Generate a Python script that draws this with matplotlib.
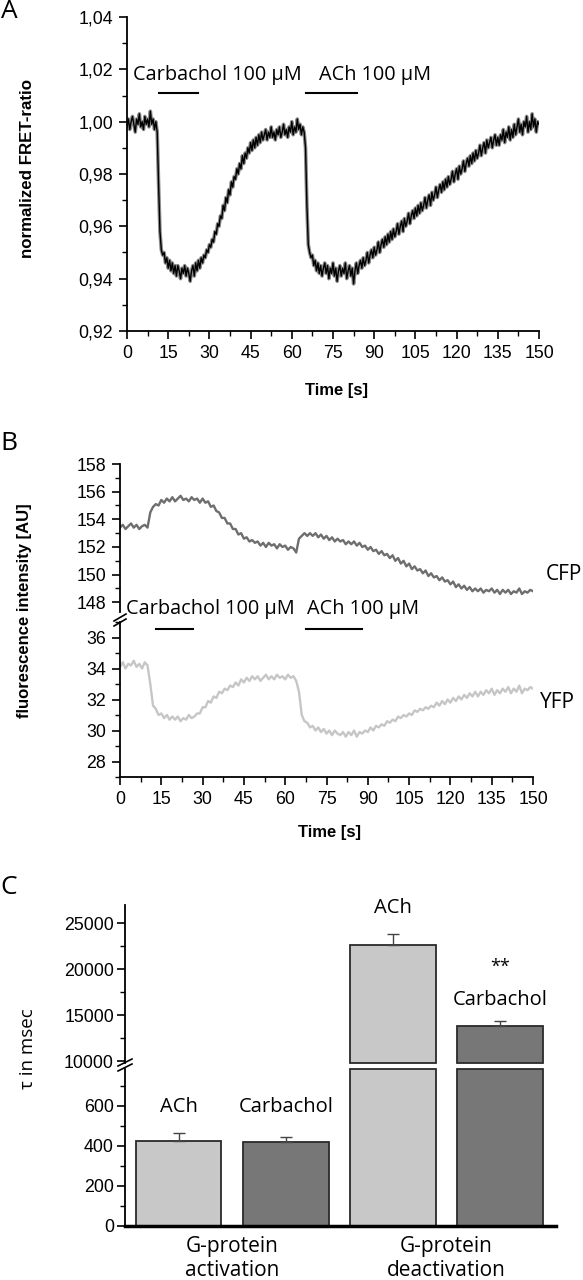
import numpy as np
import matplotlib
matplotlib.use("Agg")
import matplotlib.pyplot as plt
from matplotlib.ticker import MultipleLocator, FuncFormatter, FixedLocator
from matplotlib.lines import Line2D

# ---------------- data ----------------
# Panel A: normalized FRET ratio, sampled every 0.5 s from 0 to 150 s
fret_ratio = [
    0.998, 1.001, 0.997, 1.000, 1.002, 0.999, 0.996, 1.001, 0.999, 1.003,
    0.998, 1.000, 0.997, 1.002, 0.999, 1.001, 0.998, 1.004, 0.999, 1.001,
    0.997, 1.000,
    0.996, 0.976, 0.958, 0.951, 0.949, 0.950, 0.946, 0.948,
    0.944, 0.947, 0.943, 0.946, 0.942, 0.945, 0.941, 0.945, 0.943, 0.940,
    0.944, 0.942, 0.945, 0.941, 0.944, 0.942, 0.939, 0.943, 0.945, 0.941,
    0.946, 0.943, 0.947, 0.944, 0.948, 0.946, 0.949, 0.948, 0.951, 0.950,
    0.953, 0.952, 0.955, 0.954, 0.958, 0.957, 0.961, 0.960, 0.964, 0.963,
    0.968, 0.966, 0.971, 0.969, 0.974, 0.972, 0.977, 0.975, 0.979, 0.978,
    0.982, 0.980, 0.984, 0.982, 0.987, 0.984, 0.988, 0.986, 0.990, 0.988,
    0.992, 0.989, 0.993, 0.990, 0.994, 0.991, 0.995, 0.992, 0.996, 0.993,
    0.995, 0.997, 0.993, 0.996, 0.994, 0.998, 0.994, 0.996, 0.993, 0.997,
    0.995, 0.998, 0.994, 0.996, 0.999, 0.995, 0.997, 0.994, 0.998, 0.996,
    1.000, 0.995, 0.998, 0.996, 1.001, 0.997, 0.999, 0.995, 0.998, 0.996,
    0.990, 0.968, 0.953, 0.950, 0.948, 0.949, 0.945, 0.947, 0.943, 0.946,
    0.942, 0.945, 0.941, 0.944, 0.946, 0.942, 0.945, 0.940, 0.944, 0.942,
    0.946, 0.941, 0.944, 0.939, 0.943, 0.945, 0.941, 0.944, 0.942, 0.946,
    0.940, 0.943, 0.945, 0.941, 0.944, 0.938, 0.943, 0.946, 0.942, 0.945,
    0.947, 0.944, 0.948, 0.945, 0.947, 0.950, 0.946, 0.949, 0.951, 0.948,
    0.952, 0.949, 0.951, 0.954, 0.950, 0.953, 0.955, 0.952, 0.956, 0.953,
    0.957, 0.954, 0.958, 0.955, 0.959, 0.956, 0.958, 0.961, 0.957, 0.960,
    0.962, 0.958, 0.963, 0.960, 0.962, 0.965, 0.961, 0.964, 0.966, 0.963,
    0.967, 0.964, 0.968, 0.965, 0.969, 0.966, 0.968, 0.971, 0.967, 0.970,
    0.972, 0.968, 0.973, 0.970, 0.972, 0.975, 0.971, 0.974, 0.976, 0.973,
    0.977, 0.974, 0.978, 0.975, 0.979, 0.976, 0.978, 0.981, 0.977, 0.980,
    0.982, 0.978, 0.983, 0.980, 0.982, 0.985, 0.981, 0.984, 0.986, 0.983,
    0.987, 0.984, 0.988, 0.985, 0.989, 0.986, 0.988, 0.991, 0.987, 0.990,
    0.992, 0.988, 0.993, 0.990, 0.992, 0.994, 0.990, 0.993, 0.995, 0.991,
    0.994, 0.991, 0.995, 0.993, 0.997, 0.992, 0.996, 0.994, 0.998, 0.993,
    0.997, 0.994, 0.999, 0.995, 0.998, 1.001, 0.996, 0.999, 0.995, 1.000,
    0.998, 1.002, 0.996, 1.000, 0.997, 1.003, 0.998, 1.001, 0.996, 1.000,
    0.999,
]

# Panel B: fluorescence intensities, sampled every 1 s from 0 to 150 s
cfp_intensity = [
    153.4, 153.6, 153.3, 153.5, 153.7, 153.4, 153.6, 153.3, 153.5, 153.6,
    153.4, 154.5, 154.9, 155.1, 155.0, 155.4, 155.2, 155.5, 155.3, 155.6,
    155.3, 155.5, 155.7, 155.4, 155.5, 155.3, 155.6, 155.4, 155.5, 155.2,
    155.5, 155.2, 155.3, 154.9, 155.0, 154.6, 154.5, 154.1, 154.1, 153.7,
    153.7, 153.3, 153.3, 152.9, 153.0, 152.6, 152.7, 152.4, 152.5, 152.3,
    152.4, 152.1, 152.3, 152.0, 152.3, 152.1, 152.2, 151.9, 152.2, 152.0,
    152.1, 151.8, 152.0, 151.9, 151.6, 152.6, 152.8, 153.0, 152.8, 153.0,
    152.8, 153.0, 152.7, 152.9, 152.6, 152.8, 152.5, 152.7, 152.4, 152.6,
    152.4, 152.5, 152.2, 152.4, 152.2, 152.4, 152.1, 152.3, 152.0, 152.1,
    151.8, 152.0, 151.7, 151.8, 151.5, 151.7, 151.4, 151.5, 151.2, 151.4,
    151.0, 151.2, 150.8, 151.0, 150.6, 150.8, 150.4, 150.6, 150.3, 150.4,
    150.1, 150.3, 149.9, 150.1, 149.8, 149.9, 149.6, 149.8, 149.5, 149.6,
    149.3, 149.5, 149.1, 149.3, 149.0, 149.2, 148.9, 149.1, 148.8, 149.0,
    148.8, 149.0, 148.7, 148.9, 148.8, 149.0, 148.7, 148.9, 148.6, 148.9,
    148.7, 148.9, 148.6, 148.8, 148.7, 149.0, 148.6, 148.8, 148.7, 148.9,
    148.8,
]
yfp_intensity = [
    34.1, 34.4, 34.0, 34.3, 34.2, 34.5, 34.1, 34.3, 34.0, 34.4,
    34.2, 33.0, 31.6, 31.4, 31.0, 31.1, 30.8, 31.0, 30.7, 30.9,
    30.7, 30.9, 30.6, 30.8, 30.7, 31.0, 30.8, 30.9, 31.1, 31.1,
    31.5, 31.5, 31.9, 31.8, 32.2, 32.1, 32.5, 32.4, 32.7, 32.6,
    32.9, 32.8, 33.1, 32.9, 33.3, 33.1, 33.4, 33.2, 33.5, 33.3,
    33.5, 33.2, 33.4, 33.6, 33.3, 33.5, 33.3, 33.6, 33.4, 33.5,
    33.3, 33.6, 33.4, 33.5, 33.2, 32.5, 31.0, 30.6, 30.5, 30.2,
    30.3, 30.0, 30.2, 29.9, 30.1, 29.8, 30.0, 29.7, 30.0, 29.8,
    29.7, 29.9, 29.6, 29.9, 29.7, 30.0, 29.6, 29.9, 29.8, 30.0,
    29.9, 30.2, 30.0, 30.3, 30.2, 30.4, 30.3, 30.6, 30.5, 30.7,
    30.6, 30.9, 30.8, 31.0, 30.9, 31.1, 31.0, 31.3, 31.2, 31.4,
    31.3, 31.5, 31.4, 31.6, 31.5, 31.8, 31.6, 31.9, 31.7, 32.0,
    31.8, 32.1, 31.9, 32.2, 32.0, 32.3, 32.1, 32.4, 32.2, 32.5,
    32.2, 32.5, 32.3, 32.6, 32.4, 32.7, 32.3, 32.6, 32.4, 32.7,
    32.5, 32.8, 32.4, 32.7, 32.5, 32.9, 32.4, 32.7, 32.6, 32.8,
    32.7,
]

stim_labels = ["Carbachol 100 µM", "ACh 100 µM"]
stim_a_start = [11.6, 65.0]
stim_a_end = [26.0, 83.7]
stim_b_start = [13.0, 67.5]
stim_b_end = [26.5, 87.8]

# Panel C: time constants
group_labels = ["G-protein\nactivation", "G-protein\ndeactivation"]
agonists = ["ACh", "Carbachol", "ACh", "Carbachol"]
tau_mean = [426, 422, 22600, 13800]
tau_sem = [37, 25, 1300, 550]

# ---------------- styling ----------------
plt.rcParams["font.family"] = ["Liberation Sans", "DejaVu Sans"]
ANNOT = ["Open Sans", "DejaVu Sans"]
W, H = 583, 1280
fig = plt.figure(figsize=(W / 100, H / 100), dpi=100)


def rect(l, t, r, b):
    return [l / W, 1 - b / H, (r - l) / W, (b - t) / H]


def fx(x):
    return x / W


def fy(y):
    return 1 - y / H


comma = FuncFormatter(lambda v, p: f"{v:.2f}".replace(".", ","))
TICKFS = 12.8


def style_axis(ax, bottom=True, lw=1.3):
    ax.spines["top"].set_visible(False)
    ax.spines["right"].set_visible(False)
    ax.spines["left"].set_linewidth(lw)
    if bottom:
        ax.spines["bottom"].set_linewidth(lw)
    else:
        ax.spines["bottom"].set_visible(False)
        ax.tick_params(axis="x", which="both", bottom=False, labelbottom=False)
    ax.tick_params(which="major", direction="out", length=6, width=1.2,
                   labelsize=TICKFS, pad=4)
    ax.tick_params(which="minor", direction="out", length=3.5, width=1.0)


# ---------------- Panel A ----------------
axA = fig.add_axes(rect(127, 17, 539, 331))
tA = np.linspace(0, 150, len(fret_ratio))
axA.plot(tA, fret_ratio, color="#8c8c8c", lw=2.6, zorder=2)
axA.plot(tA, fret_ratio, color="black", lw=1.0, zorder=3)
axA.set_xlim(0, 150)
axA.set_ylim(0.92, 1.04)
axA.xaxis.set_major_locator(MultipleLocator(15))
axA.xaxis.set_minor_locator(MultipleLocator(7.5))
axA.yaxis.set_major_locator(MultipleLocator(0.02))
axA.yaxis.set_minor_locator(MultipleLocator(0.01))
axA.yaxis.set_major_formatter(comma)
style_axis(axA)
for s, e in zip(stim_a_start, stim_a_end):
    axA.plot([s, e], [1.011, 1.011], color="black", lw=1.5)
axA.text(2.2, 1.016, stim_labels[0], family=ANNOT, fontsize=14.3, ha="left", va="baseline")
axA.text(69.9, 1.016, stim_labels[1], family=ANNOT, fontsize=14.3, ha="left", va="baseline")
axA.set_xlabel("Time [s]", fontsize=12, fontweight="bold", va="center")
axA.xaxis.set_label_coords(fx(336), fy(391), transform=fig.transFigure)
axA.set_ylabel("normalized FRET-ratio", fontsize=12.2, fontweight="bold", va="center")
axA.yaxis.set_label_coords(fx(28), fy(169), transform=fig.transFigure)

# ---------------- Panel B ----------------
tB = np.linspace(0, 150, len(cfp_intensity))
axBu = fig.add_axes(rect(120, 464, 533, 612))
axBl = fig.add_axes(rect(120, 622, 533, 777))
axBu.plot(tB, cfp_intensity, color="#6e6e6e", lw=1.7)
axBl.plot(tB, yfp_intensity, color="#c6c6c6", lw=1.7)
for ax in (axBu, axBl):
    ax.set_xlim(0, 150)
    ax.xaxis.set_major_locator(MultipleLocator(15))
    ax.xaxis.set_minor_locator(MultipleLocator(7.5))
    ax.yaxis.set_major_locator(MultipleLocator(2))
    ax.yaxis.set_minor_locator(MultipleLocator(1))
axBu.set_ylim(147.3, 158)
axBl.set_ylim(27, 37)
style_axis(axBu, bottom=False)
style_axis(axBl)
axBu.yaxis.set_major_locator(FixedLocator([148, 150, 152, 154, 156, 158]))
axBl.yaxis.set_major_locator(FixedLocator([28, 30, 32, 34, 36]))
for s, e in zip(stim_b_start, stim_b_end):
    axBl.plot([s, e], [36.55, 36.55], color="black", lw=1.5, clip_on=False)
axBl.text(2.3, 37.5, stim_labels[0], family=ANNOT, fontsize=14.3, ha="left", va="baseline")
axBl.text(67.8, 37.5, stim_labels[1], family=ANNOT, fontsize=14.3, ha="left", va="baseline")
fig.text(fx(564), fy(574), "CFP", family=ANNOT, fontsize=15, ha="center", va="center")
fig.text(fx(557), fy(703), "YFP", family=ANNOT, fontsize=15, ha="center", va="center")
axBl.set_xlabel("Time [s]", fontsize=12, fontweight="bold", va="center")
axBl.xaxis.set_label_coords(fx(330), fy(832), transform=fig.transFigure)
axBu.set_ylabel("fluorescence intensity [AU]", fontsize=12, fontweight="bold", va="center")
axBu.yaxis.set_label_coords(fx(25), fy(611), transform=fig.transFigure)
for y0 in (621, 626):
    fig.add_artist(Line2D([fx(114), fx(126)], [fy(y0), fy(y0 - 7)], color="black", lw=1.2))

# ---------------- Panel C ----------------
axCu = fig.add_axes(rect(125, 905, 556, 1063))
axCl = fig.add_axes(rect(125, 1069, 556, 1226))
xpos = np.arange(1, len(tau_mean) + 1)
colors = ["#c8c8c8", "#777777", "#c8c8c8", "#777777"]
up_lo, up_hi = 9830, 27000
lo_hi = 785
means = np.array(tau_mean, dtype=float)
mask = means > up_lo
axCu.bar(xpos[mask], means[mask] - up_lo, bottom=up_lo, width=0.8,
         color=np.array(colors)[mask], edgecolor="#2a2a2a", linewidth=1.3, clip_on=False)
axCu.errorbar(xpos[mask], means[mask], yerr=[np.zeros(mask.sum()), np.array(tau_sem)[mask]],
              fmt="none", ecolor="#444444", elinewidth=1.0, capsize=4, capthick=1.0)
axCl.bar(xpos, np.minimum(means, lo_hi), width=0.8, color=colors,
         edgecolor="#2a2a2a", linewidth=1.3, clip_on=False)
lmask = means < lo_hi
axCl.errorbar(xpos[lmask], means[lmask], yerr=[np.zeros(lmask.sum()), np.array(tau_sem)[lmask]],
              fmt="none", ecolor="#444444", elinewidth=1.0, capsize=4, capthick=1.0)
for ax in (axCu, axCl):
    ax.set_xlim(0.5, 4.52)
axCu.set_ylim(up_lo, up_hi)
axCl.set_ylim(0, lo_hi)
style_axis(axCu, bottom=False)
style_axis(axCl)
axCl.spines["bottom"].set_linewidth(2.5)
axCu.yaxis.set_major_locator(FixedLocator([10000, 15000, 20000, 25000]))
axCu.yaxis.set_minor_locator(FixedLocator([12500, 17500, 22500]))
axCl.yaxis.set_major_locator(FixedLocator([0, 200, 400, 600]))
axCl.yaxis.set_minor_locator(FixedLocator([100, 300, 500, 700]))
for ax in (axCu, axCl):
    ax.tick_params(axis="y", which="major", pad=2)
axCl.set_xticks([1.5, 3.5])
axCl.set_xticklabels(group_labels, family=ANNOT, fontsize=15, linespacing=1.2)
axCl.tick_params(axis="x", which="both", length=0, pad=7)
axCl.xaxis.set_minor_locator(FixedLocator([]))

axCl.text(1, 569, agonists[0], family=ANNOT, fontsize=14.5, ha="center", va="baseline")
axCl.text(2, 569, agonists[1], family=ANNOT, fontsize=14.5, ha="center", va="baseline")
axCu.text(3, 26085, agonists[2], family=ANNOT, fontsize=14.5, ha="center", va="baseline", clip_on=False)
axCu.text(4, 16139, agonists[3], family=ANNOT, fontsize=14.5, ha="center", va="baseline")
axCu.text(4, 20300, "**", family=ANNOT, fontsize=13, ha="center", va="center")
axCu.set_ylabel("τ in msec", family=ANNOT, fontsize=13.5, va="center")
axCu.yaxis.set_label_coords(fx(28), fy(1049), transform=fig.transFigure)
for y0 in (1066, 1071):
    fig.add_artist(Line2D([fx(118), fx(132)], [fy(y0), fy(y0 - 7)], color="black", lw=1.2))

# panel letters
fig.text(fx(9), fy(12), "A", family=ANNOT, fontsize=19, ha="center", va="center")
fig.text(fx(9), fy(444), "B", family=ANNOT, fontsize=19, ha="center", va="center")
fig.text(fx(9), fy(888), "C", family=ANNOT, fontsize=19, ha="center", va="center")

fig.savefig("out.png", dpi=100)
